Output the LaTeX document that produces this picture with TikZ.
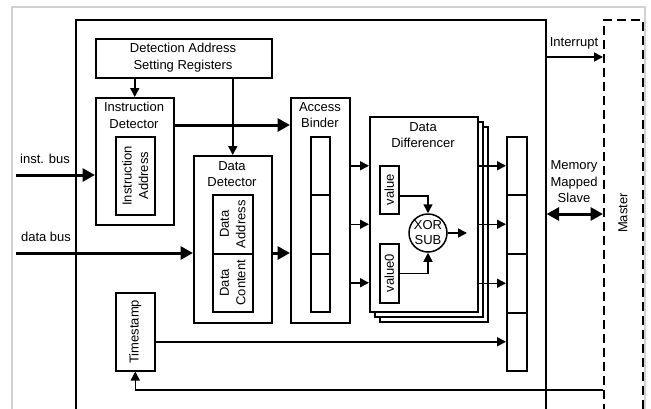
\documentclass[tikz,border=0pt]{standalone}
\usepackage{fontspec}
\setmainfont{Liberation Sans}
\usetikzlibrary{arrows.meta,calc}

\begin{document}
\begin{tikzpicture}[x=1pt,y=-1pt,
  font=\fontsize{13}{16.5}\selectfont,
  line join=miter,
  box/.style={draw, line width=1.5pt, fill=white, inner sep=0pt, anchor=north west},
  label/.style={inner sep=0pt, align=center},
  vlabel/.style={inner sep=0pt, align=center, rotate=90},
  arr/.style={line width=1.5pt, -{Triangle[length=9pt,width=9pt]}},
  bus/.style={line width=3pt, -{Triangle[length=12.5pt,width=13pt]}},
  dbus/.style={line width=3pt, {Triangle[length=12.5pt,width=13pt]}-{Triangle[length=12.5pt,width=13pt]}}
]
\useasboundingbox (0,0) rectangle (651,408);
\clip (0,0) rectangle (651,408);

% outer frame and the two main blocks
\draw[line width=1.5pt, draw=black!18] (12,7) rectangle (645,440);
\node[box, line width=1.6pt, minimum width=470pt, minimum height=420pt] (main) at (75,19) {};
\node[box, line width=1.6pt, dash pattern=on 9pt off 5pt, minimum width=39pt, minimum height=420pt] (master) at (603,19) {};
\node[vlabel] (mastertxt) at (623,213) {Master};

% detection address setting registers
\node[box, minimum width=176pt, minimum height=39pt] (dasr) at (95,38) {};
\node[label] (dasrtxt) at (183,57.5) {Detection Address\\Setting Registers};

% instruction detector
\node[box, minimum width=78pt, minimum height=127pt] (idet) at (95,97) {};
\node[label] (idettxt) at (134,115.5) {Instruction\\Detector};
\node[box, minimum width=39pt, minimum height=78pt] (iaddr) at (115,136) {};
\node[vlabel] (iaddrtxt) at (iaddr.center) {Instruction\\Address};

% data detector
\node[box, minimum width=78pt, minimum height=167pt] (ddet) at (193,155) {};
\node[label] (ddettxt) at (232,174) {Data\\Detector};
\node[box, minimum width=40pt, minimum height=59pt] (daddr) at (212,194) {};
\node[vlabel] (daddrtxt) at (daddr.center) {Data\\Address};
\node[box, minimum width=40pt, minimum height=58pt] (dcont) at (212,253) {};
\node[vlabel] (dconttxt) at (dcont.center) {Data\\Content};

% access binder
\node[box, minimum width=59pt, minimum height=225pt] (abind) at (290,97) {};
\node[label] (abindtxt) at (320,115) {Access\\Binder};
\node[box, minimum width=19pt, minimum height=58pt] (ab1) at (310,136) {};
\node[box, minimum width=19pt, minimum height=59pt] (ab2) at (310,194) {};
\node[box, minimum width=19pt, minimum height=58pt] (ab3) at (310,253) {};

% data differencer (stacked copies)
\node[box, minimum width=108pt, minimum height=195pt] (diffc) at (379,126) {};
\node[box, minimum width=108pt, minimum height=195pt] (diffb) at (374,121) {};
\node[box, minimum width=108pt, minimum height=195pt] (diff) at (369,116) {};
\node[label] (difftxt) at (423,135) {Data\\Differencer};
\node[box, minimum width=19pt, minimum height=48pt] (val) at (379,165) {};
\node[vlabel] (valtxt) at (val.center) {value};
\node[box, minimum width=19pt, minimum height=59pt] (valz) at (379,243) {};
\node[vlabel] (valztxt) at (valz.center) {value0};
\node[circle, draw, line width=1.5pt, minimum size=38pt, inner sep=0pt, align=center,
      font=\fontsize{13}{15}\selectfont] (xor) at (428,233) {XOR\\SUB};
\coordinate (xorout) at (467,233);

% output register
\node[box, minimum width=20pt, minimum height=58pt] (r1) at (506,136) {};
\node[box, minimum width=20pt, minimum height=59pt] (r2) at (506,194) {};
\node[box, minimum width=20pt, minimum height=59pt] (r3) at (506,253) {};
\node[box, minimum width=20pt, minimum height=58pt] (r4) at (506,312) {};

% timestamp
\node[box, minimum width=39pt, minimum height=78pt] (ts) at (115,292) {};
\node[vlabel] (tstxt) at (ts.center) {Timestamp};

% bus inputs
\coordinate (instin) at (16,175);
\coordinate (datain) at (16,253);
\node[label, anchor=base] (insttxt) at (45,163) {inst. bus};
\node[label, anchor=base] (datatxt) at (46,241) {data bus};
\draw[bus] (instin) -- (instin -| idet.west);
\draw[bus] (datain) -- (datain -| ddet.west);

% detector outputs
\coordinate (ylevel) at (0,125);
\draw[bus] (idet.east |- ylevel) -- (abind.west |- ylevel);
\draw[bus] (ddet.east |- dcont.north) -- (abind.west |- dcont.north);
\draw[arr] (dasr.south -| idet.north) -- (idet.north);
\draw[arr] (dasr.south -| ddet.north) -- (ddet.north);

% binder to differencer to register
\draw[arr] (abind.east |- ab1) -- (diff.west |- ab1);
\draw[arr] (abind.east |- ab2) -- (diff.west |- ab2);
\draw[arr] (abind.east |- ab3) -- (diff.west |- ab3);
\draw[arr] (diff.east |- r1) -- (r1.west);
\draw[arr] (diff.east |- r2) -- (r2.west);
\draw[arr] (diff.east |- r3) -- (r3.west);

% inside the differencer
\draw[arr] ($(val.east)+(0,6)$) -| (xor.north);
\draw[arr] (valz.east) -| (xor.south);
\draw[arr] (xor.east) -- (xorout);

% timestamp paths
\draw[arr] (ts.east |- r4) -- (r4.west);
\coordinate (yret) at (0,390);
\draw[arr] (master.west |- yret) -| (ts.south);

% links to the master side
\coordinate (yint) at (0,57);
\coordinate (ymms) at (0,214);
\node[label, anchor=base] (inttxt) at (574,46) {Interrupt};
\draw[arr] (main.east |- yint) -- (master.west |- yint);
\node[label] (mmstxt) at (574,182) {Memory\\Mapped\\Slave};
\draw[dbus] (main.east |- ymms) -- (master.west |- ymms);
\end{tikzpicture}
\end{document}
